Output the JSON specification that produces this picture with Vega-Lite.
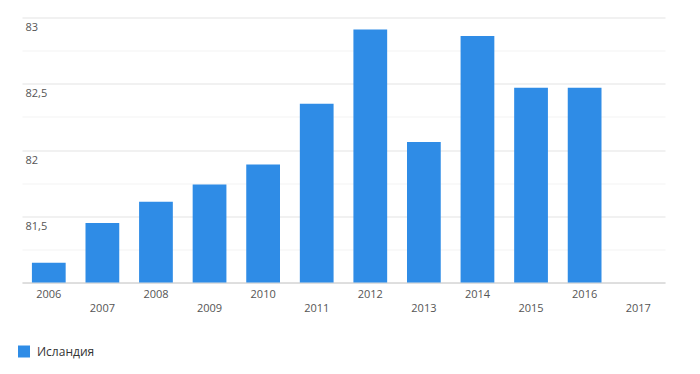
{
  "$schema": "https://vega.github.io/schema/vega-lite/v6.json",
  "width": 643,
  "height": 265,
  "autosize": {"type": "none"},
  "padding": {"left": 22, "top": 17.5, "right": 35, "bottom": 91.5},
  "background": "white",
  "config": {
    "view": {"stroke": null},
    "font": "Open Sans"
  },
  "data": {
    "values": [
      {"year": "2006", "value": 81.15, "country": "Исландия"},
      {"year": "2007", "value": 81.45, "country": "Исландия"},
      {"year": "2008", "value": 81.61, "country": "Исландия"},
      {"year": "2009", "value": 81.74, "country": "Исландия"},
      {"year": "2010", "value": 81.89, "country": "Исландия"},
      {"year": "2011", "value": 82.35, "country": "Исландия"},
      {"year": "2012", "value": 82.91, "country": "Исландия"},
      {"year": "2013", "value": 82.06, "country": "Исландия"},
      {"year": "2014", "value": 82.86, "country": "Исландия"},
      {"year": "2015", "value": 82.47, "country": "Исландия"},
      {"year": "2016", "value": 82.47, "country": "Исландия"}
    ]
  },
  "mark": {"type": "bar"},
  "encoding": {
    "x": {
      "field": "year",
      "type": "ordinal",
      "scale": {
        "domain": ["2006","2007","2008","2009","2010","2011","2012","2013","2014","2015","2016","2017"],
        "paddingInner": 0.37,
        "paddingOuter": 0.185
      },
      "axis": {
        "title": null,
        "labelAngle": 0,
        "ticks": false,
        "domain": true,
        "domainColor": "#cccccc",
        "labelFontSize": 11,
        "labelColor": "#555555",
        "labelBaseline": "top",
        "labelPadding": {"condition": {"test": "datum.value % 2 == 1", "value": 20}, "value": 6}
      }
    },
    "y": {
      "field": "value",
      "type": "quantitative",
      "scale": {"domain": [81, 83], "zero": false, "nice": false},
      "axis": {
        "title": null,
        "orient": "left",
        "values": [81, 81.25, 81.5, 81.75, 82, 82.25, 82.5, 82.75, 83],
        "grid": true,
        "gridColor": {"condition": {"test": "(datum.value * 2) % 1 == 0", "value": "#e3e3e3"}, "value": "#f3f3f3"},
        "ticks": false,
        "domain": false,
        "labelAlign": "left",
        "labelBaseline": "top",
        "labelPadding": -3,
        "labelOffset": 4,
        "labelFontSize": 11,
        "labelColor": "#555555",
        "labelExpr": "(datum.value * 2) % 1 == 0 && datum.value > 81 ? replace(format(datum.value, ''), '.', ',') : ''"
      }
    },
    "y2": {"datum": 81},
    "fill": {
      "field": "country",
      "type": "nominal",
      "scale": {"range": ["#2f8ce6"]},
      "legend": {
        "title": null,
        "orient": "none",
        "legendX": -4,
        "legendY": 328,
        "symbolType": "square",
        "symbolSize": 144,
        "symbolStrokeWidth": 0,
        "labelFontSize": 12,
        "labelColor": "#333333",
        "labelOffset": 7
      }
    }
  }
}
